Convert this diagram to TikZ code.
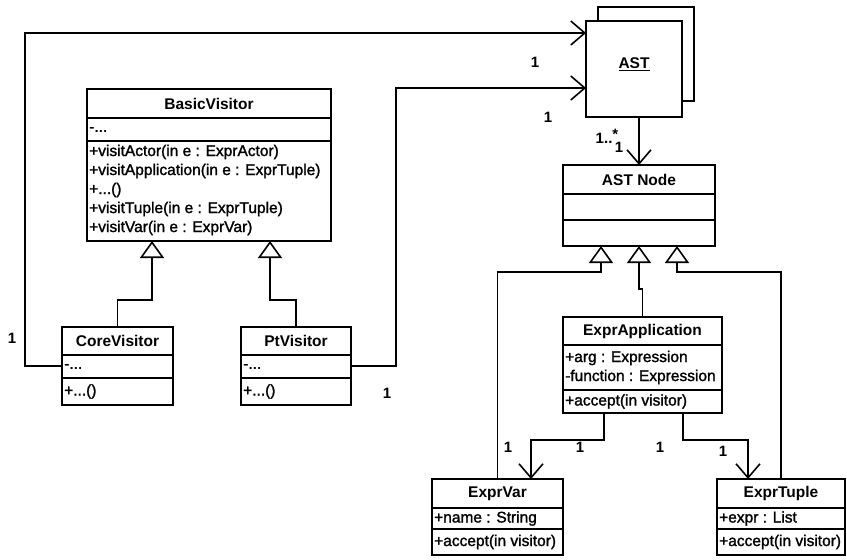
\documentclass[tikz,border=0pt]{standalone}
\usepackage{fontspec}
\setmainfont{Liberation Sans}
\usetikzlibrary{arrows.meta,calc}
\begin{document}
\begin{tikzpicture}[x=1pt,y=-1pt,
  box/.style={draw, line width=1.8pt, fill=white, inner sep=0pt, outer sep=0pt, anchor=north west},
  sep/.style={line width=1.8pt},
  cname/.style={font=\fontsize{15.5}{17}\selectfont\bfseries, inner sep=0pt},
  member/.style={font=\fontsize{15.5}{19}\selectfont\addfontfeature{FakeBold=1.5}, align=left, anchor=west, inner sep=0pt},
  link/.style={line width=1.6pt},
  nav/.style={link, -{Straight Barb[length=14pt,width=24pt,line width=1.6pt]}},
  inherit/.style={link, -{Triangle[open,length=17pt,width=24pt,line width=1.6pt,fill=white]}},
  mult/.style={font=\fontsize{15}{16}\selectfont\bfseries, inner sep=0pt}
]
\useasboundingbox (0,0) rectangle (847,560);

% ---------- class boxes ----------
% BasicVisitor
\node[box, minimum width=244pt, minimum height=152pt] (basic) at (87,89) {};
\draw[sep] (basic.west |- 0,118) -- (basic.east |- 0,118);
\draw[sep] (basic.west |- 0,141) -- (basic.east |- 0,141);
\node[cname] (basic-n) at (209,103.5) {BasicVisitor};
\node[member] (basic-a) at (89,129.5) {-...};
\node[member] (basic-o) at (89,190) {+visitActor(in e : ExprActor)\\+visitApplication(in e : ExprTuple)\\+...()\\+visitTuple(in e : ExprTuple)\\+visitVar(in e : ExprVar)};

% CoreVisitor
\node[box, minimum width=111pt, minimum height=78pt] (core) at (62,327) {};
\draw[sep] (core.west |- 0,355) -- (core.east |- 0,355);
\draw[sep] (core.west |- 0,378) -- (core.east |- 0,378);
\node[cname] (core-n) at (117.5,341) {CoreVisitor};
\node[member] (core-a) at (64,366.5) {-...};
\node[member] (core-o) at (64,391.5) {+...()};

% PtVisitor
\node[box, minimum width=110pt, minimum height=78pt] (pt) at (241,327) {};
\draw[sep] (pt.west |- 0,355) -- (pt.east |- 0,355);
\draw[sep] (pt.west |- 0,378) -- (pt.east |- 0,378);
\node[cname] (pt-n) at (296,341) {PtVisitor};
\node[member] (pt-a) at (243,366.5) {-...};
\node[member] (pt-o) at (243,391.5) {+...()};

% AST object (stacked)
\node[box, minimum width=96pt, minimum height=94pt] (astback) at (598,7) {};
\node[box, minimum width=96pt, minimum height=96pt] (ast) at (586,21) {};
\node[cname] (ast-n) at (634,64) {\underline{AST}};

% AST Node
\node[box, minimum width=152pt, minimum height=81pt] (astnode) at (563,165) {};
\draw[sep] (astnode.west |- 0,194) -- (astnode.east |- 0,194);
\draw[sep] (astnode.west |- 0,220) -- (astnode.east |- 0,220);
\node[cname] (astnode-n) at (639,179.5) {AST Node};

% ExprApplication
\node[box, minimum width=159pt, minimum height=96pt] (app) at (563,317) {};
\draw[sep] (app.west |- 0,345) -- (app.east |- 0,345);
\draw[sep] (app.west |- 0,390) -- (app.east |- 0,390);
\node[cname] (app-n) at (642.5,331) {ExprApplication};
\node[member] (app-a) at (565,367.5) {+arg : Expression\\-function : Expression};
\node[member] (app-o) at (565,401.5) {+accept(in visitor)};

% ExprVar
\node[box, minimum width=131pt, minimum height=76pt] (var) at (432,479) {};
\draw[sep] (var.west |- 0,508) -- (var.east |- 0,508);
\draw[sep] (var.west |- 0,529) -- (var.east |- 0,529);
\node[cname] (var-n) at (497.5,493.5) {ExprVar};
\node[member] (var-a) at (434,518.5) {+name : String};
\node[member] (var-o) at (434,542) {+accept(in visitor)};

% ExprTuple
\node[box, minimum width=128pt, minimum height=76pt] (tuple) at (717,479) {};
\draw[sep] (tuple.west |- 0,508) -- (tuple.east |- 0,508);
\draw[sep] (tuple.west |- 0,529) -- (tuple.east |- 0,529);
\node[cname] (tuple-n) at (781,493.5) {ExprTuple};
\node[member] (tuple-a) at (719,518.5) {+expr : List};
\node[member] (tuple-o) at (719,542) {+accept(in visitor)};

% ---------- associations ----------
\draw[nav] (core.west) -| (25,33) -- ($(ast.north west)+(0,12)$);
\draw[nav] (pt.east) -| (396,88) -- ($(ast.north west)+(0,67)$);
\draw[nav] (ast.south -| astnode.north) -- (astnode.north);
\draw[nav] ($(app.south west)+(41,0)$) |- (531,440) -- ($(var.north west)+(99,0)$);
\draw[nav] ($(app.south west)+(120,0)$) |- (748,440) -- ($(tuple.north west)+(31,0)$);

% ---------- generalizations ----------
\draw[inherit] (core.north) |- (152,300) -- ($(basic.south west)+(65,0)$);
\draw[inherit] (pt.north) |- (270,300) -- ($(basic.south west)+(183,0)$);
\draw[inherit] (var.north) |- (601,272) -- ($(astnode.south west)+(38,0)$);
\draw[inherit] (app.north) |- (639,289) -- (astnode.south);
\draw[inherit] (tuple.north) |- (677,272) -- ($(astnode.south west)+(114,0)$);

% ---------- multiplicities ----------
\node[mult] (m1) at (535,62) {1};
\node[mult] (m2) at (548,117) {1};
\node[mult] (m3) at (607,136) {1..\raisebox{4pt}{*}};
\node[mult] (m4) at (619,147) {1};
\node[mult] (m5) at (12,338) {1};
\node[mult] (m6) at (387,393) {1};
\node[mult] (m7) at (508,447) {1};
\node[mult] (m8) at (580,447) {1};
\node[mult] (m9) at (660,447) {1};
\node[mult] (m10) at (723,451) {1};
\end{tikzpicture}
\end{document}
